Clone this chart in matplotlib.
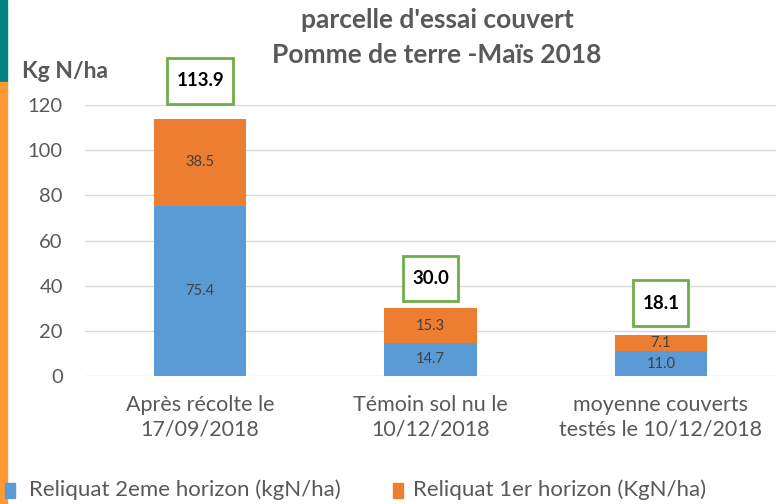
import matplotlib
matplotlib.use("Agg")
import matplotlib.pyplot as plt
from matplotlib.patches import Rectangle
from matplotlib.path import Path

plt.rcParams['font.family'] = ['Lato', 'DejaVu Sans']

categories = ["Après récolte le\n17/09/2018", "Témoin sol nu le\n10/12/2018", "moyenne couverts\ntestés le 10/12/2018"]
horizon2 = [75.4, 14.7, 11.0]
horizon1 = [38.5, 15.3, 7.1]
totals = [113.9, 30.0, 18.1]
series_names = ["Reliquat 2eme horizon (kgN/ha)", "Reliquat 1er horizon (KgN/ha)"]
yticks = [0, 20, 40, 60, 80, 100, 120]

# label offsets above bar tops (points) - layout only
label_offsets = [27.2, 21.4, 23]

blue = "#5B9BD5"
orange = "#ED7D31"
gray = "#595959"


def tall_box(x0, y0, width, height, mutation_size):
    padx = 0.48 * mutation_size
    h = 2.45 * mutation_size
    cy = y0 + height / 2
    verts = [(x0 - padx, cy - h/2), (x0 + width + padx, cy - h/2),
             (x0 + width + padx, cy + h/2), (x0 - padx, cy + h/2), (x0 - padx, cy - h/2)]
    return Path(verts, [Path.MOVETO, Path.LINETO, Path.LINETO, Path.LINETO, Path.CLOSEPOLY])


fig = plt.figure(figsize=(7.76, 5.04), dpi=100)
ax = fig.add_axes([85/776, 1-376/504, (776-85)/776, (376-105)/504])

x = list(range(len(categories)))
ax.bar(x, horizon2, width=0.4, color=blue, zorder=3)
ax.bar(x, horizon1, width=0.4, bottom=horizon2, color=orange, zorder=3)

for i in x:
    ax.text(i, horizon2[i]/2, f"{horizon2[i]:.1f}", ha="center", va="center", fontsize=10.5, color="#404040", zorder=4)
    ax.text(i, horizon2[i] + horizon1[i]/2, f"{horizon1[i]:.1f}", ha="center", va="center", fontsize=10.5, color="#404040", zorder=4)
    ax.annotate(f"{totals[i]:.1f}", xy=(i, totals[i]), xytext=(0, label_offsets[i]), textcoords="offset points",
                ha="center", va="center", fontsize=13.5, fontweight="bold", color="black",
                bbox=dict(boxstyle=tall_box, fc="white", ec="#70AD47", lw=2), zorder=5)

ax.set_xlim(-0.5, 2.5)
ax.set_ylim(0, 120)
ax.set_yticks(yticks)
ax.set_yticklabels([str(v) for v in yticks], fontsize=14.5, color=gray)
ax.set_xticks(x)
ax.set_xticklabels(categories, fontsize=15.5, color=gray, linespacing=1.25)
ax.tick_params(axis="y", length=0, pad=16)
ax.tick_params(axis="x", length=0, pad=14)
ax.grid(axis="y", color="#D9D9D9", lw=1, zorder=0)
for s in ax.spines.values():
    s.set_visible(False)

fig.text(437/776, 1-20/504, "parcelle d'essai couvert", ha="center", va="center", fontsize=19, fontweight="bold", color=gray)
fig.text(437/776, 1-55/504, "Pomme de terre -Maïs 2018", ha="center", va="center", fontsize=19, fontweight="bold", color=gray)
fig.text(22/776, 1-72/504, "Kg N/ha", ha="left", va="center", fontsize=16.5, fontweight="bold", color=gray)

# left decorative bar
fig.patches.append(Rectangle((0, 1-82/504), 7/776, 82/504, transform=fig.transFigure, color="#00827F", zorder=0))
fig.patches.append(Rectangle((0, 0), 7/776, 1-82/504, transform=fig.transFigure, color="#FF9933", zorder=0))

# legend
fig.patches.append(Rectangle((5/776, 1-498/504), 10/776, 15/504, transform=fig.transFigure, color=blue))
fig.text(29/776, 1-490/504, series_names[0], ha="left", va="center", fontsize=16, color=gray)
fig.patches.append(Rectangle((393/776, 1-498/504), 10/776, 15/504, transform=fig.transFigure, color=orange))
fig.text(413/776, 1-490/504, series_names[1], ha="left", va="center", fontsize=16, color=gray)

fig.savefig("out.png", dpi=100)
